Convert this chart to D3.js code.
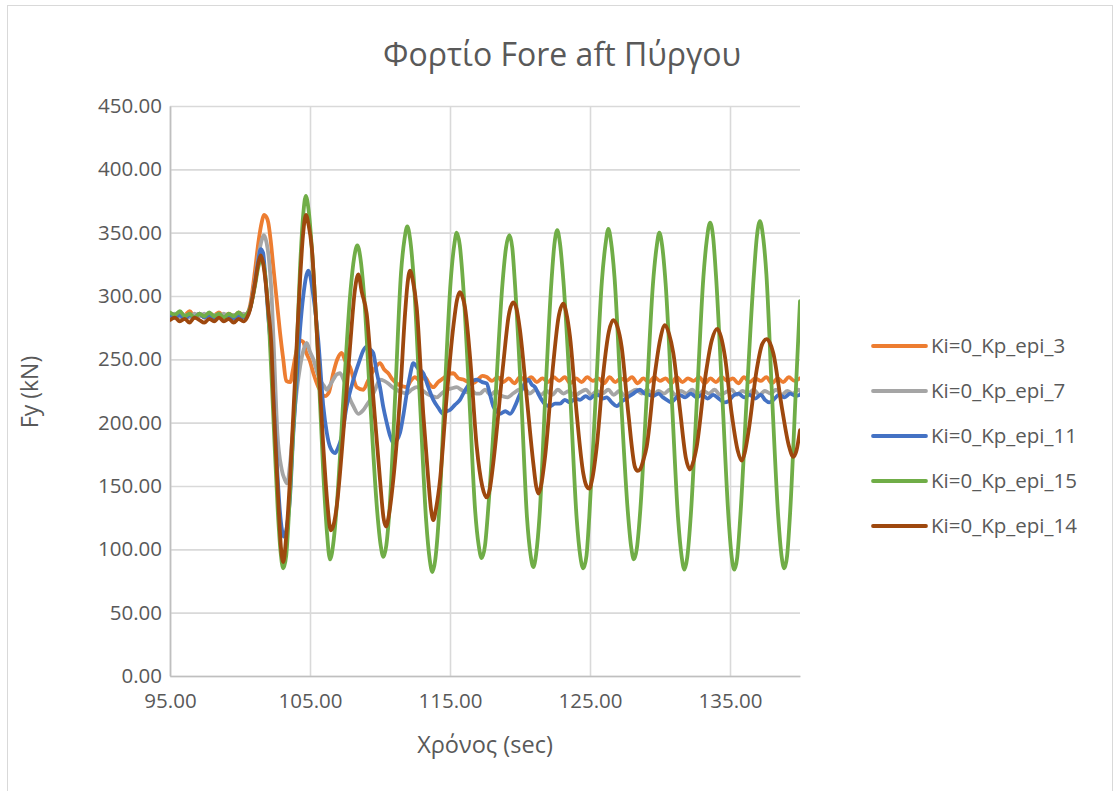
<!DOCTYPE html>
<html>
<head>
<meta charset="utf-8">
<script src="https://cdn.jsdelivr.net/npm/d3@7"></script>
<style>
  html, body { margin: 0; padding: 0; background: #ffffff; }
  svg text { font-family: "Open Sans", "Noto Sans", sans-serif; fill: #595959; }
</style>
</head>
<body>
<svg id="chart" width="1115" height="791"></svg>
<script>
// Fore-aft tower load Fy (kN) against time (s) for five proportional-gain cases (Ki = 0).
const seriesNames = ["Ki=0_Kp_epi_3", "Ki=0_Kp_epi_7", "Ki=0_Kp_epi_11", "Ki=0_Kp_epi_15", "Ki=0_Kp_epi_14"];
const seriesColors = ["#ED7D31", "#A5A5A5", "#4472C4", "#70AD47", "#9E480E"];
const xTicks = [95, 105, 115, 125, 135];
const yTicks = [0, 50, 100, 150, 200, 250, 300, 350, 400, 450];

// [time (sec), Fy (kN)]
const epi3 = [
  [95.0,286],[95.35,284],[95.7,287],[96.05,285],[96.4,288],[96.75,284],[97.1,286],[97.45,283],[97.8,286],[98.15,285],
  [98.5,287],[98.85,284],[99.2,286],[99.55,284],[99.9,287],[100.25,285],[100.5,286],
  [100.71,292],[101.07,320],[101.31,342],[101.55,358],[101.71,364],[101.9,362],[102.02,358],[102.19,344],[102.38,323],
  [102.62,297],[102.86,271],[103.09,250],[103.3,233],[103.6,232],[103.75,240],[103.95,252],[104.29,265],[104.5,264],
  [104.74,255],[104.98,249],[105.24,239],[105.6,228],[106.07,221],[106.35,224],[106.66,239],[106.95,250],[107.26,255],
  [107.55,248],[107.86,244],[108.1,235],[108.34,228],[108.81,226],[109.1,232],[109.41,239],[109.7,244],[110.0,247],
  [110.3,242],[110.59,239],[110.9,234],[111.19,231],[111.55,229],[111.91,228],[112.2,233],[112.5,236],[112.85,233],
  [113.21,236],[113.5,231],[113.81,228],[114.15,232],[114.52,235],[114.85,238],[115.24,239],[115.6,235],[115.95,234],
  [116.3,232],[116.66,231],[117.0,234],[117.3,237],[117.62,236],
  [118.0,233],[118.4,236],[118.8,232],[119.2,235],[119.6,231],[120.0,236],[120.4,233],[120.8,236],[121.2,232],[121.6,235],
  [122.0,232],[122.4,236],[122.8,233],[123.2,236],[123.6,231],[124.0,235],[124.4,232],[124.8,236],[125.2,233],[125.6,235],
  [126.0,231],[126.4,236],[126.8,232],[127.2,235],[127.6,233],[128.0,236],[128.4,231],[128.8,235],[129.2,232],[129.6,236],
  [130.0,233],[130.4,235],[130.8,231],[131.2,236],[131.6,232],[132.0,235],[132.4,233],[132.8,236],[133.2,231],[133.6,235],
  [134.0,232],[134.4,236],[134.8,233],[135.2,235],[135.6,231],[136.0,236],[136.4,232],[136.8,235],[137.2,233],[137.6,236],
  [138.0,231],[138.4,235],[138.8,232],[139.2,236],[139.6,233],[140.0,235]
];

const epi7 = [
  [95.0,284],[95.35,286],[95.7,283],[96.05,285],[96.4,283],[96.75,286],[97.1,284],[97.45,286],[97.8,283],[98.15,285],
  [98.5,284],[98.85,286],[99.2,283],[99.55,285],[99.9,284],[100.25,286],[100.5,284],
  [100.71,290],[101.07,312],[101.31,331],[101.55,344],[101.7,348],[101.9,342],[102.05,331],[102.26,300],[102.45,250],
  [102.67,192],[102.98,163],[103.2,155],[103.38,152],[103.55,165],[103.75,190],[104.0,220],[104.29,244],[104.55,258],
  [104.76,263],[105.0,256],[105.24,250],[105.5,240],[105.71,234],[106.0,229],[106.19,226],[106.45,230],[106.66,234],
  [106.9,238],[107.14,239],[107.4,234],[107.62,228],[107.85,219],[108.1,213],[108.45,207],[108.81,210],[109.05,214],
  [109.29,218],[109.65,226],[110.0,234],[110.3,233],[110.59,231],[110.9,228],[111.19,226],[111.55,224],[111.91,223],
  [112.25,226],[112.62,228],[112.95,226],[113.34,223],[113.7,221],[114.05,220],[114.4,223],[114.76,226],[115.1,227],
  [115.48,228],[115.8,226],[116.15,224],[116.5,226],[116.85,223],[117.14,223],
  [117.5,226],[117.9,222],[118.3,225],[118.7,221],[119.1,220],[119.5,223],[119.9,226],[120.3,227],[120.7,223],[121.1,226],
  [121.5,222],[121.9,225],[122.3,222],[122.7,226],[123.1,223],[123.5,225],[123.9,221],[124.3,224],[124.7,226],[125.1,222],
  [125.5,225],[125.9,223],[126.3,226],[126.7,222],[127.1,225],[127.5,221],[127.9,224],[128.3,226],[128.7,223],[129.1,226],
  [129.5,222],[129.9,225],[130.3,223],[130.7,226],[131.1,222],[131.5,225],[131.9,223],[132.3,226],[132.7,222],[133.1,225],
  [133.5,223],[133.9,226],[134.3,222],[134.7,224],[135.1,226],[135.5,222],[135.9,225],[136.3,223],[136.7,226],[137.1,222],
  [137.5,225],[137.9,223],[138.3,226],[138.7,222],[139.1,225],[139.5,223],[139.9,226],[140.0,225]
];

const epi11 = [
  [95.0,285],[95.35,283],[95.7,285],[96.05,282],[96.4,285],[96.75,283],[97.1,286],[97.45,283],[97.8,285],[98.15,282],
  [98.5,285],[98.85,283],[99.2,285],[99.55,282],[99.9,285],[100.25,283],[100.5,285],
  [100.71,290],[101.07,310],[101.31,328],[101.48,337],[101.65,334],[101.79,318],[102.02,284],[102.26,250],[102.45,205],
  [102.62,170],[102.85,130],[103.14,110],[103.35,118],[103.57,141],[103.8,190],[104.05,234],[104.3,275],[104.52,300],
  [104.88,320],[105.24,300],[105.59,265],[105.95,213],[106.2,192],[106.43,181],[106.79,176],[107.0,180],[107.26,189],
  [107.62,213],[108.1,234],[108.57,250],[108.81,257],[109.05,260],[109.29,258],[109.52,255],[109.76,240],[110.0,228],
  [110.24,212],[110.48,200],[110.71,190],[110.95,184],[111.19,186],[111.43,192],[111.67,206],[111.91,223],[112.14,237],
  [112.38,247],[112.7,243],[113.09,239],[113.45,228],[113.81,218],[114.15,212],[114.52,207],[114.76,209],[115.0,210],
  [115.35,214],[115.71,218],[116.05,225],[116.43,231],[116.91,234],[117.3,232],[117.62,231],[117.86,222],[118.09,213],
  [118.35,209],[118.57,207],[118.95,209],[119.29,207],[119.64,213],[119.9,220],[120.12,226],[120.35,231],[120.59,234],
  [120.85,230],[121.07,228],[121.3,223],[121.55,218],[121.85,214],[122.14,213],[122.5,215],[122.86,215],[123.2,218],
  [123.57,216],[123.95,219],[124.29,218],[124.7,221],[125.0,219],[125.24,221],[125.6,222],[125.9,219],[126.19,220],
  [126.55,216],[126.91,213],[127.3,217],[127.7,220],[128.1,223],[128.57,226],[128.9,223],[129.2,222],[129.5,221],
  [129.9,223],[130.2,220],[130.48,218],[130.8,216],[131.1,219],[131.4,222],[131.8,220],[132.2,223],[132.6,220],
  [133.0,222],[133.4,219],[133.8,222],[134.2,219],[134.6,216],[134.9,217],[135.2,221],[135.6,223],[136.0,220],
  [136.4,222],[136.8,219],[137.2,222],[137.5,218],[137.8,216],[138.1,218],[138.5,222],[138.9,220],[139.3,223],
  [139.7,221],[140.0,222]
];

const epi15 = [
  [95.0,287],[95.35,285],[95.7,288],[96.05,284],[96.4,286],[96.75,283],[97.1,286],[97.45,284],[97.8,287],[98.15,284],
  [98.5,286],[98.85,283],[99.2,286],[99.55,284],[99.9,287],[100.25,284],[100.5,286],
  [100.71,290],[101.07,308],[101.31,323],[101.5,329],[101.7,324],[101.9,305],[102.1,272],[102.4,200],[102.7,130],
  [102.9,98],[103.09,85],[103.3,95],[103.55,140],[103.9,215],[104.3,325],[104.5,362],[104.7,379],[104.9,368],
  [105.15,335],[105.5,268],[105.95,160],[106.2,115],[106.43,92],[106.7,108],[106.95,140],[107.4,222],[107.9,305],
  [108.15,330],[108.38,340],[108.6,330],[108.85,302],[109.3,217],[109.8,130],[110.05,103],[110.24,94],[110.45,103],
  [110.7,135],[111.1,225],[111.5,318],[111.75,345],[111.95,355],[112.15,345],[112.4,315],[112.85,218],[113.3,122],
  [113.55,92],[113.74,82],[113.95,92],[114.2,125],[114.6,218],[115.05,312],[115.3,340],[115.48,350],[115.7,340],
  [115.92,312],[116.37,222],[116.8,130],[117.05,103],[117.26,93],[117.5,103],[117.75,135],[118.25,220],[118.75,310],
  [119.0,338],[119.24,348],[119.45,338],[119.65,308],[120.1,217],[120.5,125],[120.75,96],[120.95,86],[121.15,96],
  [121.4,127],[121.8,219],[122.25,312],[122.45,340],[122.66,352],[122.85,342],[123.1,312],[123.6,219],[124.05,124],
  [124.3,95],[124.52,85],[124.75,95],[124.95,126],[125.4,219],[125.85,312],[126.1,340],[126.31,353],[126.5,343],
  [126.75,315],[127.2,222],[127.7,130],[127.95,101],[128.14,92],[128.35,101],[128.6,132],[129.05,221],[129.5,310],
  [129.75,338],[129.95,350],[130.15,340],[130.4,310],[130.85,217],[131.3,123],[131.55,94],[131.74,84],[131.95,94],
  [132.2,127],[132.65,221],[133.1,315],[133.35,345],[133.57,358],[133.8,346],[134.0,316],[134.45,221],[134.9,124],
  [135.12,94],[135.31,84],[135.52,94],[135.75,128],[136.2,221],[136.7,316],[136.92,347],[137.14,359],[137.35,348],
  [137.6,317],[138.0,222],[138.45,125],[138.68,95],[138.88,85],[139.08,95],[139.3,130],[139.7,225],[140.0,296]
];

const epi14 = [
  [95.0,281],[95.35,283],[95.7,280],[96.05,282],[96.4,279],[96.75,283],[97.1,281],[97.45,279],[97.8,282],[98.15,280],
  [98.5,283],[98.85,280],[99.2,282],[99.55,279],[99.9,282],[100.25,280],[100.5,283],
  [100.71,289],[101.07,310],[101.31,326],[101.48,332],[101.65,326],[101.79,315],[102.02,289],[102.26,257],[102.38,220],
  [102.55,180],[102.75,135],[102.92,102],[103.09,90],[103.3,110],[103.57,155],[103.93,234],[104.29,313],[104.5,348],
  [104.71,364],[104.9,356],[105.12,339],[105.48,273],[105.95,181],[106.25,135],[106.48,115],[106.7,120],[106.91,134],
  [107.38,192],[107.86,260],[108.21,305],[108.45,317],[108.7,303],[109.05,286],[109.52,220],[110.0,155],[110.25,125],
  [110.43,118],[110.65,128],[110.95,155],[111.43,220],[111.79,286],[111.95,308],[112.14,320],[112.35,312],[112.62,291],
  [113.09,207],[113.45,155],[113.65,131],[113.81,123],[114.0,132],[114.29,155],[114.76,220],[115.24,276],[115.5,297],
  [115.71,303],[115.9,299],[116.07,291],[116.43,252],[116.91,181],[117.3,150],[117.62,141],[117.85,148],[118.09,168],
  [118.81,247],[119.2,285],[119.52,295],[119.75,290],[120.0,273],[120.48,220],[120.95,168],[121.15,150],[121.31,144],
  [121.5,150],[121.79,173],[122.38,247],[122.75,283],[123.09,294],[123.3,287],[123.57,268],[124.05,207],[124.52,160],
  [124.75,150],[124.95,148],[125.15,155],[125.48,181],[125.95,239],[126.35,272],[126.66,281],[126.95,276],[127.26,260],
  [127.74,207],[128.21,165],[128.4,162],[128.57,163],[128.8,170],[129.05,181],[129.64,239],[130.0,265],[130.36,277],
  [130.65,270],[130.95,255],[131.43,210],[131.85,172],[132.14,163],[132.35,168],[132.62,181],[133.21,234],[133.7,265],
  [134.09,274],[134.35,268],[134.64,252],[135.12,207],[135.55,178],[135.84,170],[136.05,176],[136.31,192],[136.91,242],
  [137.3,262],[137.62,266],[137.85,263],[138.09,255],[138.69,213],[139.2,182],[139.52,173],[139.75,178],[140.0,194]
];

const seriesData = [epi3, epi7, epi11, epi15, epi14];

const svg = d3.select("#chart");
const W = 1115, H = 791;
const plot = { left: 170, right: 800, top: 106, bottom: 676 };

// chart frame
svg.append("rect")
  .attr("x", 7.5).attr("y", 5.5)
  .attr("width", W - 10).attr("height", H + 10)
  .attr("fill", "#ffffff").attr("stroke", "#d9d9d9").attr("stroke-width", 1);

const x = d3.scaleLinear().domain([95, 140]).range([plot.left, plot.right]);
const y = d3.scaleLinear().domain([0, 450]).range([plot.bottom, plot.top]);
const fmt = d3.format(".2f");

// horizontal gridlines
svg.append("g")
  .attr("transform", `translate(${plot.left},0)`)
  .call(d3.axisLeft(y).tickValues(yTicks).tickSize(-(plot.right - plot.left)).tickFormat(""))
  .call(g => g.select(".domain").remove())
  .call(g => g.selectAll(".tick line").attr("stroke", "#d9d9d9").attr("stroke-width", 1.6));

// vertical gridlines
svg.append("g")
  .attr("transform", `translate(0,${plot.bottom})`)
  .call(d3.axisBottom(x).tickValues(xTicks).tickSize(-(plot.bottom - plot.top)).tickFormat(""))
  .call(g => g.select(".domain").remove())
  .call(g => g.selectAll(".tick line").attr("stroke", "#d9d9d9").attr("stroke-width", 1.6));

// axis lines and labels
const yAxis = svg.append("g")
  .attr("transform", `translate(${plot.left},0)`)
  .call(d3.axisLeft(y).tickValues(yTicks).tickSize(0).tickPadding(8).tickFormat(fmt));
yAxis.select(".domain").attr("stroke", "#bfbfbf").attr("stroke-width", 1.6);
yAxis.selectAll(".tick text").attr("font-size", 20.5).attr("fill", "#595959")
  .style("font-family", '"Open Sans", sans-serif');

const xAxis = svg.append("g")
  .attr("transform", `translate(0,${plot.bottom})`)
  .call(d3.axisBottom(x).tickValues(xTicks).tickSize(0).tickPadding(17).tickFormat(fmt));
xAxis.select(".domain").attr("stroke", "#bfbfbf").attr("stroke-width", 1.6);
xAxis.selectAll(".tick text").attr("font-size", 20.5).attr("fill", "#595959")
  .style("font-family", '"Open Sans", sans-serif');

// series lines
svg.append("clipPath").attr("id", "plotClip")
  .append("rect").attr("x", plot.left).attr("y", plot.top - 20)
  .attr("width", plot.right - plot.left).attr("height", plot.bottom - plot.top + 20);

const line = d3.line()
  .x(d => x(d[0]))
  .y(d => y(d[1]))
  .curve(d3.curveMonotoneX);

svg.append("g").attr("clip-path", "url(#plotClip)")
  .selectAll("path")
  .data(seriesData)
  .join("path")
  .attr("d", line)
  .attr("fill", "none")
  .attr("stroke", (d, i) => seriesColors[i])
  .attr("stroke-width", 3.8)
  .attr("stroke-linejoin", "round")
  .attr("stroke-linecap", "round");

// title and axis titles
svg.append("text")
  .attr("x", 562).attr("y", 66)
  .attr("text-anchor", "middle")
  .attr("font-size", 32)
  .text("Φορτίο Fore aft Πύργου");

svg.append("text")
  .attr("x", 485).attr("y", 753)
  .attr("text-anchor", "middle")
  .attr("font-size", 23.5)
  .text("Χρόνος (sec)");

svg.append("text")
  .attr("transform", "translate(38,392) rotate(-90)")
  .attr("text-anchor", "middle")
  .attr("font-size", 23)
  .text("Fy (kN)");

// legend
const legend = svg.append("g");
const legendRows = legend.selectAll("g")
  .data(seriesNames)
  .join("g")
  .attr("transform", (d, i) => `translate(873,${346 + i * 45})`);
legendRows.append("line")
  .attr("x1", 0).attr("x2", 53).attr("y1", 0).attr("y2", 0)
  .attr("stroke", (d, i) => seriesColors[i])
  .attr("stroke-width", 3.8)
  .attr("stroke-linecap", "round");
legendRows.append("text")
  .attr("x", 58).attr("y", 0)
  .attr("dy", "0.35em")
  .attr("font-size", 20.5)
  .text(d => d);
</script>
</body>
</html>
